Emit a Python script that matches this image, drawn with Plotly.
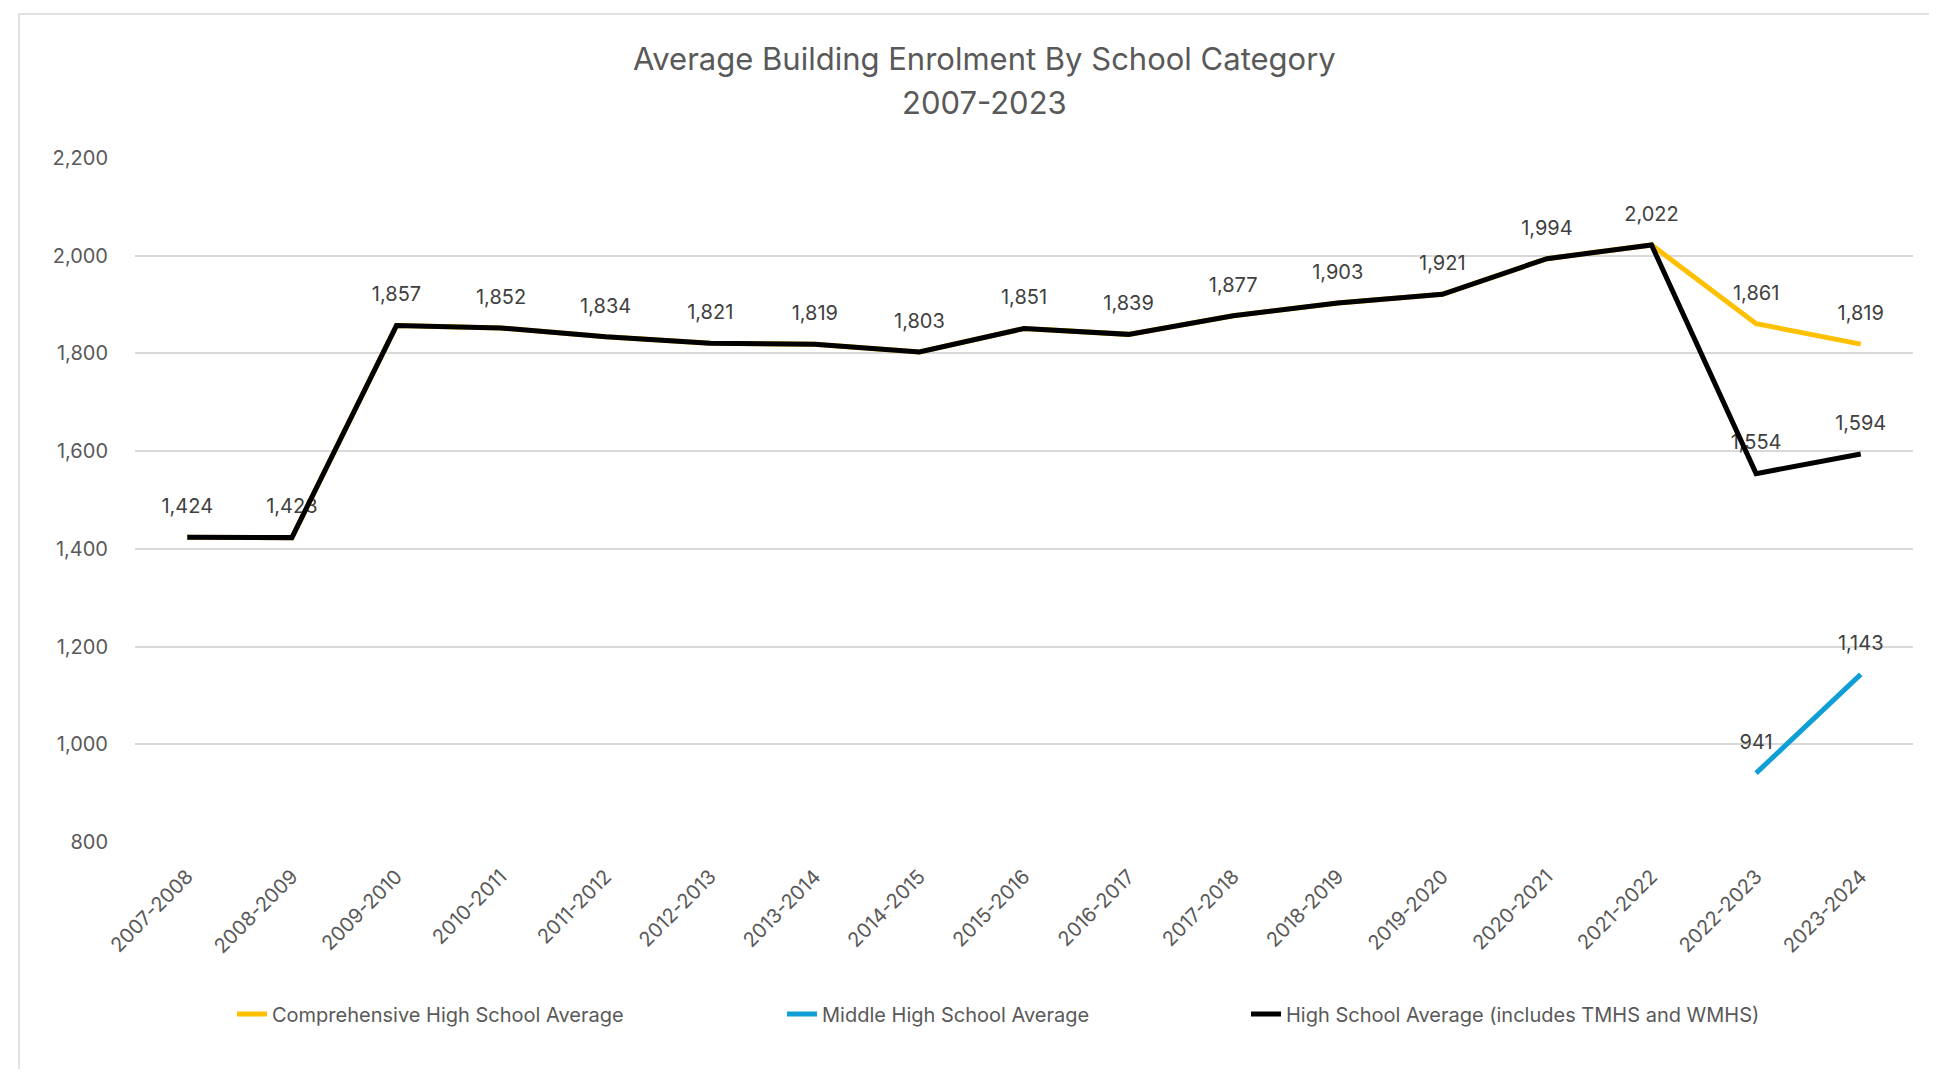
import plotly.graph_objects as go

# ---------------- data ----------------
categories = ["2007-2008", "2008-2009", "2009-2010", "2010-2011", "2011-2012",
              "2012-2013", "2013-2014", "2014-2015", "2015-2016", "2016-2017",
              "2017-2018", "2018-2019", "2019-2020", "2020-2021", "2021-2022",
              "2022-2023", "2023-2024"]

high_school_avg = [1424, 1423, 1857, 1852, 1834, 1821, 1819, 1803, 1851, 1839,
                   1877, 1903, 1921, 1994, 2022, 1554, 1594]
comprehensive_avg = [1424, 1423, 1857, 1852, 1834, 1821, 1819, 1803, 1851, 1839,
                     1877, 1903, 1921, 1994, 2022, 1861, 1819]
middle_avg = [None] * 15 + [941, 1143]

y_ticks = [800, 1000, 1200, 1400, 1600, 1800, 2000, 2200]

names = ["Comprehensive High School Average",
         "Middle High School Average",
         "High School Average (includes TMHS and WMHS)"]
colors = ["#FFC000", "#0F9ED5", "#000000"]

# ---------------- geometry (page pixels) ----------------
OFF = 8                       # default body margin of the html page
PAGE_W, PAGE_H = 1937, 1077
PL, PR, PT, PB = 135, 1913, 158, 842   # plot area in page pixels
W, H = PAGE_W - 2 * OFF, PAGE_H - 2 * OFF


def px_x(x):
    return (x - PL) / (PR - PL)


def px_y(y):
    return (PB - y) / (PB - PT)


FONT = "Inter, Roboto, 'Liberation Sans', sans-serif"
LABEL_COLOR = "#404040"
AXIS_COLOR = "#595959"

fig = go.Figure()

# data labels first so the lines are painted over them
def fmt(v):
    return "" if v is None else f"{v:,}"

label_sets = [
    (high_school_avg, [fmt(v) for v in high_school_avg]),
    (comprehensive_avg, [fmt(c) if c != h else "" for c, h in zip(comprehensive_avg, high_school_avg)]),
    (middle_avg, [fmt(v) for v in middle_avg]),
]
for vals, txt in label_sets:
    fig.add_trace(go.Scatter(
        x=categories, y=vals, text=txt, mode="markers+text",
        textposition="top center",
        marker=dict(size=29, color="rgba(0,0,0,0)"),
        textfont=dict(family=FONT, size=20, color=LABEL_COLOR),
        hoverinfo="skip", showlegend=False, cliponaxis=False,
    ))

series = [comprehensive_avg, middle_avg, high_school_avg]
for i, (vals, name, col) in enumerate(zip(series, names, colors)):
    fig.add_trace(go.Scatter(
        x=categories, y=vals, name=name, mode="lines",
        line=dict(color=col, width=5),
        connectgaps=False,
        legend="legend" if i == 0 else f"legend{i + 1}",
        cliponaxis=False,
    ))

legend_common = dict(
    orientation="h", yanchor="middle", xanchor="left",
    font=dict(family=FONT, size=20, color=AXIS_COLOR),
    bgcolor="rgba(0,0,0,0)", borderwidth=0,
    itemsizing="constant",
)
legend_x = [px_x(232), px_x(782), px_x(1246)]
legend_y = px_y(1014)

fig.update_layout(
    width=W, height=H,
    margin=dict(l=PL - OFF, r=PAGE_W - OFF - PR, t=PT - OFF, b=PAGE_H - OFF - PB, autoexpand=False),
    paper_bgcolor="white", plot_bgcolor="white",
    font=dict(family=FONT, color=AXIS_COLOR),
    legend=dict(x=legend_x[0], y=legend_y, **legend_common),
    legend2=dict(x=legend_x[1], y=legend_y, **legend_common),
    legend3=dict(x=legend_x[2], y=legend_y, **legend_common),
    xaxis=dict(
        type="category", categoryorder="array", categoryarray=categories,
        range=[-0.5, len(categories) - 0.5],
        showgrid=False, zeroline=False, showline=False, ticks="",
        tickangle=-45, ticklabelstandoff=18,
        tickfont=dict(family=FONT, size=20, color=AXIS_COLOR),
    ),
    yaxis=dict(
        range=[y_ticks[0], y_ticks[-1]], tickvals=y_ticks, tickformat=",",
        showgrid=True, gridcolor="#D9D9D9", gridwidth=1.5,
        zeroline=False, showline=False, ticks="",
        ticklabelstandoff=26,
        tickfont=dict(family=FONT, size=20, color=AXIS_COLOR),
    ),
    annotations=[
        dict(text="Average Building Enrolment By School Category", x=px_x(984), y=px_y(58),
             xref="paper", yref="paper", xanchor="center", yanchor="middle", showarrow=False,
             font=dict(family=FONT, size=31, color=AXIS_COLOR)),
        dict(text="2007-2023", x=px_x(984), y=px_y(103),
             xref="paper", yref="paper", xanchor="center", yanchor="middle", showarrow=False,
             font=dict(family=FONT, size=31, color=AXIS_COLOR)),
    ],
    shapes=[
        dict(type="rect", xref="paper", yref="paper",
             x0=px_x(19), x1=px_x(2100), y0=px_y(1300), y1=px_y(14),
             line=dict(color="#D9D9D9", width=1.5), layer="below"),
    ],
    showlegend=True,
)

fig.write_html("out.html")
